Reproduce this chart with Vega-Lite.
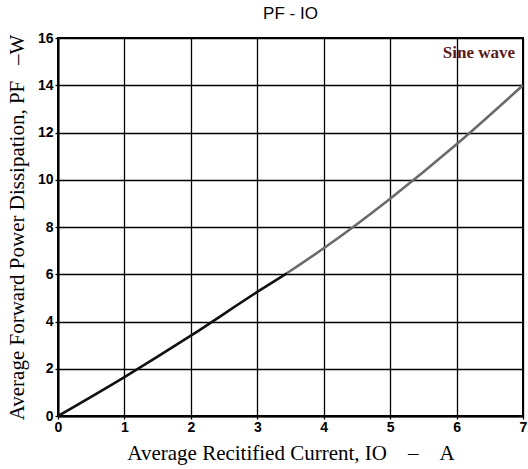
{
  "$schema": "https://vega.github.io/schema/vega-lite/v6.json",
  "autosize": "none",
  "width": 465,
  "height": 378,
  "padding": {"left": 58, "top": 38, "right": 5, "bottom": 53},
  "background": "white",
  "title": {"text": "PF - IO", "font": "Liberation Sans", "fontSize": 17, "fontWeight": "normal", "color": "black", "offset": 8},
  "config": {"view": {"stroke": "black", "strokeWidth": 2}},
  "datasets": {
    "curve": [
      {"io": 0, "pf": 0, "seg": "a"},
      {"io": 1, "pf": 1.65, "seg": "a"},
      {"io": 2, "pf": 3.4, "seg": "a"},
      {"io": 3, "pf": 5.25, "seg": "a"},
      {"io": 3.45, "pf": 6.05, "seg": "a"},
      {"io": 3.45, "pf": 6.05, "seg": "b"},
      {"io": 4, "pf": 7.1, "seg": "b"},
      {"io": 5, "pf": 9.2, "seg": "b"},
      {"io": 6, "pf": 11.5, "seg": "b"},
      {"io": 7, "pf": 14, "seg": "b"}
    ],
    "labels": [{"io": 6.88, "pf": 15.35, "txt": "Sine wave"}]
  },
  "layer": [
    {
      "data": {"name": "curve"},
      "mark": {"type": "line", "strokeWidth": 2.6, "clip": true, "interpolate": "monotone"},
      "encoding": {
        "x": {
          "field": "io", "type": "quantitative",
          "scale": {"domain": [0, 7], "nice": false},
          "axis": {
            "values": [0, 1, 2, 3, 4, 5, 6, 7], "format": "d",
            "grid": true, "gridColor": "black", "gridOpacity": 1, "gridWidth": 1.3,
            "domainColor": "black", "domainWidth": 2,
            "tickColor": "black", "tickSize": 3, "tickWidth": 1.3,
            "labelFont": "Liberation Sans", "labelFontSize": 14, "labelFontWeight": "bold", "labelColor": "black",
            "labelPadding": 1, "labelFlush": false,
            "title": "Average Recitified Current, IO\u00a0\u00a0\u00a0\u00a0\u2013\u00a0\u00a0\u00a0\u00a0A",
            "titleFont": "Liberation Serif", "titleFontSize": 21, "titleFontWeight": "normal", "titleColor": "black",
            "titlePadding": 8
          }
        },
        "y": {
          "field": "pf", "type": "quantitative",
          "scale": {"domain": [0, 16], "nice": false},
          "axis": {
            "values": [0, 2, 4, 6, 8, 10, 12, 14, 16], "format": "d",
            "grid": true, "gridColor": "black", "gridOpacity": 1, "gridWidth": 1.3,
            "domainColor": "black", "domainWidth": 2,
            "tickColor": "black", "tickSize": 3, "tickWidth": 1.3,
            "labelFont": "Liberation Sans", "labelFontSize": 14, "labelFontWeight": "bold", "labelColor": "black",
            "labelPadding": 2, "labelFlush": false,
            "title": "Average Forward Power Dissipation, PF\u00a0\u00a0\u00a0\u2013W",
            "titleFont": "Liberation Serif", "titleFontSize": 21, "titleFontWeight": "normal", "titleColor": "black",
            "titlePadding": 10
          }
        },
        "color": {"field": "seg", "type": "nominal", "scale": {"domain": ["a", "b"], "range": ["#111111", "#6a6a6a"]}, "legend": null},
        "detail": {"field": "seg"}
      }
    },
    {
      "data": {"name": "labels"},
      "mark": {"type": "text", "align": "right", "baseline": "middle", "font": "Liberation Serif", "fontSize": 17, "fontWeight": "bold", "color": "#5a1a1a"},
      "encoding": {
        "x": {"field": "io", "type": "quantitative"},
        "y": {"field": "pf", "type": "quantitative"},
        "text": {"field": "txt"}
      }
    }
  ]
}
